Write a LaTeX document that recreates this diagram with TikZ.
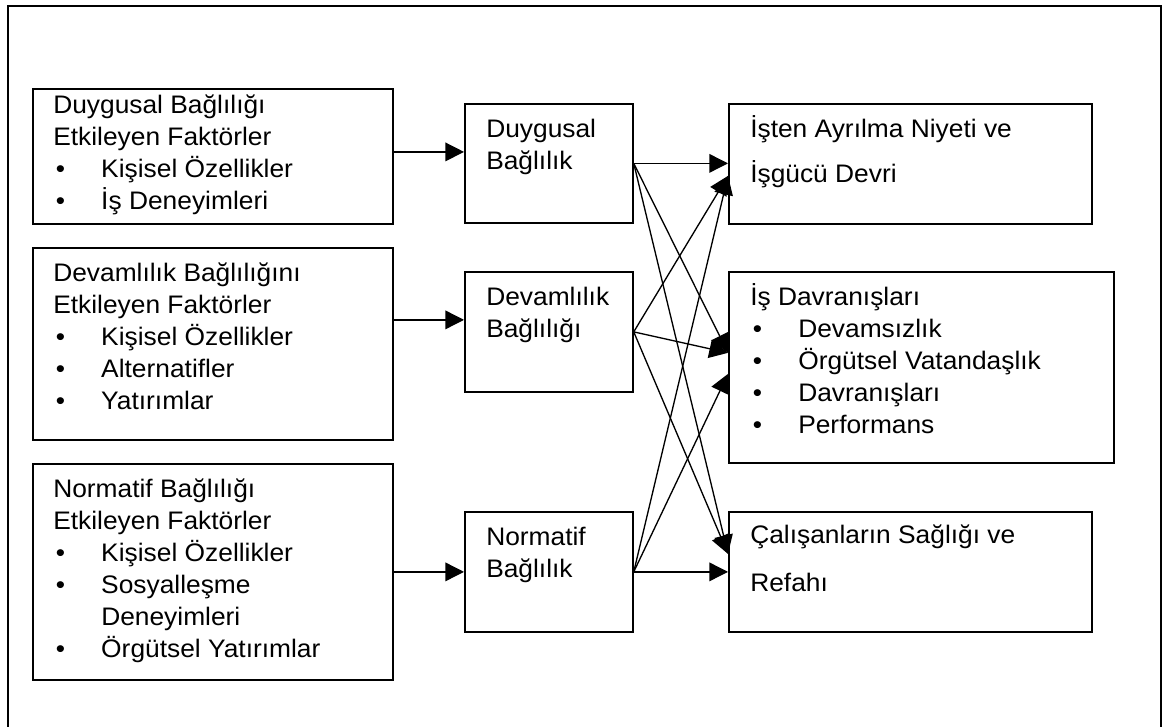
\documentclass[tikz,border=0pt]{standalone}
\usepackage{fontspec}
\setmainfont{Liberation Sans}[FakeStretch=1.04]
\usepackage{tikz}
\usetikzlibrary{arrows.meta, positioning, calc}

\newcommand{\topline}{\rule{0pt}{19pt}}
\newcommand{\bitem}[1]{\makebox[36pt][l]{\hspace{2pt}•}#1}

\tikzset{
  box/.style={draw, line width=1.3pt, anchor=north west, inner sep=0pt},
  txt/.style={anchor=north west, inner sep=0pt, align=left, font=\fontsize{19}{24}\selectfont},
  arr/.style={draw, line width=1pt, -{Triangle[length=14pt, width=14pt]}}
}

\begin{document}
\begin{tikzpicture}[x=0.75pt, y=-0.75pt]
      \useasboundingbox (0,0) rectangle (1167,726);
      % outer frame
      \draw[line width=1.4pt] (8,730) -- (8,6) -- (1161,6) -- (1161,730);

      % left column
      \node[box, minimum width=270pt, minimum height=101.25pt] (l1) at (32,88) {};
      \node[box, minimum width=270pt, minimum height=144pt] (l2) at (32,247) {};
      \node[box, minimum width=270pt, minimum height=162pt] (l3) at (32,463) {};
      \node[txt] (l1t) at ([shift={(21,-0.3)}]l1.north west)
        {\topline Duygusal Bağlılığı\\ Etkileyen Faktörler\\ \bitem{Kişisel Özellikler}\\ \bitem{İş Deneyimleri}};
      \node[txt] (l2t) at ([shift={(21,8.7)}]l2.north west)
        {\topline Devamlılık Bağlılığını\\ Etkileyen Faktörler\\ \bitem{Kişisel Özellikler}\\ \bitem{Alternatifler}\\ \bitem{Yatırımlar}};
      \node[txt] (l3t) at ([shift={(21,8.7)}]l3.north west)
        {\topline Normatif Bağlılığı\\ Etkileyen Faktörler\\ \bitem{Kişisel Özellikler}\\ \bitem{Sosyalleşme}\\ \hspace*{36pt}Deneyimleri\\ \bitem{Örgütsel Yatırımlar}};

      % middle column
      \node[box, minimum width=126pt, minimum height=89.25pt] (m1) at (464,103) {};
      \node[box, minimum width=126pt, minimum height=90pt] (m2) at (464,271) {};
      \node[box, minimum width=126pt, minimum height=90pt] (m3) at (464,511) {};
      \node[txt] (m1t) at ([shift={(22,8.7)}]m1.north west) {\topline Duygusal\\ Bağlılık};
      \node[txt] (m2t) at ([shift={(22,8.7)}]m2.north west) {\topline Devamlılık\\ Bağlılığı};
      \node[txt] (m3t) at ([shift={(22,8.7)}]m3.north west) {\topline Normatif\\ Bağlılık};

      % right column
      \node[box, minimum width=272.25pt, minimum height=90pt] (r1) at (728,103) {};
      \node[box, minimum width=288.75pt, minimum height=143.25pt] (r2) at (728,271) {};
      \node[box, minimum width=272.25pt, minimum height=90pt] (r3) at (728,511) {};
      \node[txt, font=\fontsize{19}{34}\selectfont] (r1t) at ([shift={(22,8.7)}]r1.north west)
        {\topline İşten Ayrılma Niyeti ve\\ İşgücü Devri};
      \node[txt] (r2t) at ([shift={(22,8.7)}]r2.north west)
        {\topline İş Davranışları\\ \bitem{Devamsızlık}\\ \bitem{Örgütsel Vatandaşlık}\\ \bitem{Davranışları}\\ \bitem{Performans}};
      \node[txt, font=\fontsize{19}{36}\selectfont] (r3t) at ([shift={(22,6.7)}]r3.north west)
        {\topline Çalışanların Sağlığı ve\\ Refahı};

      % arrow ends
      \coordinate (in1) at ([yshift=8.6pt]m1.west);
      \coordinate (in2) at ([yshift=9pt]m2.west);
      \coordinate (in3) at (m3.west);
      \coordinate (r1a) at ([yshift=-9pt]r1.west);
      \coordinate (r2a) at ([yshift=10.9pt]r2.west);
      \coordinate (r2b) at ([yshift=-4.9pt]r2.west);
      \coordinate (r3a) at ([yshift=13.5pt]r3.west);

      % left to middle
      \draw[arr] (in1 -| l1.east) -- (in1);
      \draw[arr] (in2 -| l2.east) -- (in2);
      \draw[arr] (in3 -| l3.east) -- (in3);

      % middle to right
      \draw[arr] (m1.east) -- (m1.east -| r1.west);
      \draw[arr] (m1.east) -- (r2a);
      \draw[arr] (m1.east) -- (r3a);
      \draw[arr] (m2.east) -- (r1a);
      \draw[arr] (m2.east) -- (r2a);
      \draw[arr] (m2.east) -- (r3a);
      \draw[arr] (m3.east) -- (r1a);
      \draw[arr] (m3.east) -- (r2b);
      \draw[arr] (m3.east) -- (m3.east -| r3.west);
    \end{tikzpicture}
\end{document}
